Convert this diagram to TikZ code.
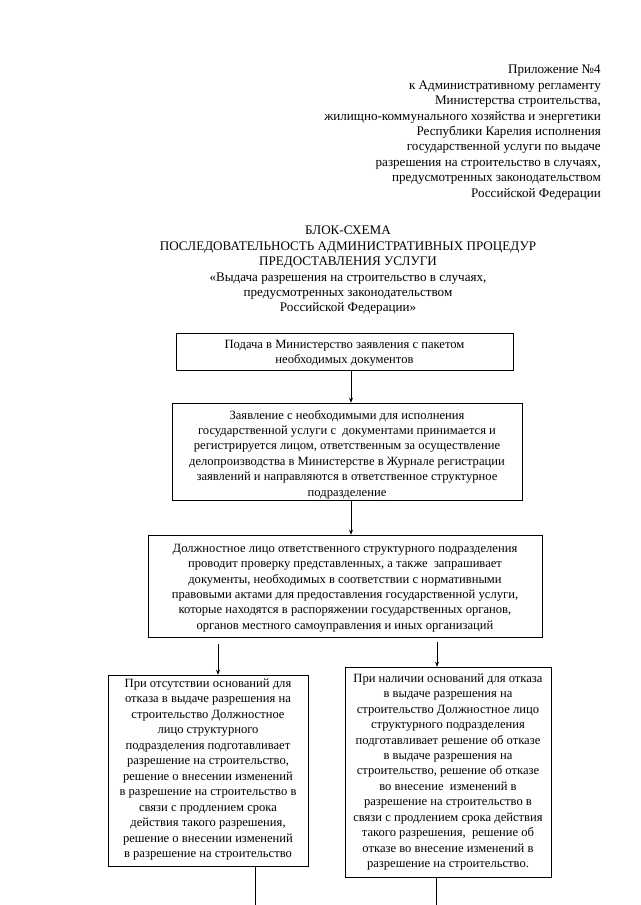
\documentclass[tikz,border=0pt]{standalone}
\usepackage{fontspec}
\setmainfont{Liberation Serif}
\usetikzlibrary{arrows.meta}
\begin{document}
\begin{tikzpicture}[x=1pt,y=-1pt,
  txt/.style={font=\fontsize{12.6}{15.45}\selectfont, align=center, inner sep=0pt},
  big/.style={font=\fontsize{13.1}{15.4}\selectfont, inner sep=0pt},
  blk/.style={draw, line width=0.6pt, inner sep=0pt},
  arr/.style={line width=0.6pt, -{Stealth[length=5pt,width=4pt]}},
  ln/.style={line width=0.6pt}]
\useasboundingbox (0,0) rectangle (640,905);
\fill[white] (0,0) rectangle (640,905);

\node[big, align=right, anchor=north east] (hdr) at (601,65) {Приложение №4\\
к Административному регламенту\\
Министерства строительства,\\
жилищно-коммунального хозяйства и энергетики\\
Республики Карелия исполнения\\
государственной услуги по выдаче\\
разрешения на строительство в случаях,\\
предусмотренных законодательством\\
Российской Федерации};

\node[big, align=center, anchor=north] (ttl) at (348,226) {БЛОК-СХЕМА\\
ПОСЛЕДОВАТЕЛЬНОСТЬ АДМИНИСТРАТИВНЫХ ПРОЦЕДУР\\
ПРЕДОСТАВЛЕНИЯ УСЛУГИ\\
«Выдача разрешения на строительство в случаях,\\
предусмотренных законодательством\\
Российской Федерации»};

\node[blk, minimum width=337pt, minimum height=37pt] (b1) at (344.5,351.5) {};
\node[txt] (t1) at ([yshift=-2pt]b1.center)
{Подача в Министерство заявления с пакетом\\ необходимых документов};

\node[blk, minimum width=350pt, minimum height=97pt] (b2) at (347,451.5) {};
\node[txt] (t2) at ([yshift=-3pt]b2.center)
{Заявление с необходимыми для исполнения\\
государственной услуги с \ документами принимается и\\
регистрируется лицом, ответственным за осуществление\\
делопроизводства в Министерстве в Журнале регистрации\\
заявлений и направляются в ответственное структурное\\
подразделение};

\node[blk, minimum width=394pt, minimum height=102pt] (b3) at (345,586) {};
\node[txt] (t3) at ([yshift=-2pt]b3.center)
{Должностное лицо ответственного структурного подразделения\\
проводит проверку представленных, а также \ запрашивает\\
документы, необходимых в соответствии с нормативными\\
правовыми актами для предоставления государственной услуги,\\
которые находятся в распоряжении государственных органов,\\
органов местного самоуправления и иных организаций};

\node[blk, minimum width=200pt, minimum height=191pt] (b4) at (208,770.5) {};
\node[txt] (t4) at ([yshift=1pt]b4.center)
{При отсутствии оснований для\\
отказа в выдаче разрешения на\\
строительство Должностное\\
лицо структурного\\
подразделения подготавливает\\
разрешение на строительство,\\
решение о внесении изменений\\
в разрешение на строительство в\\
связи с продлением срока\\
действия такого разрешения,\\
решение о внесении изменений\\
в разрешение на строительство};

\node[blk, minimum width=206pt, minimum height=210pt] (b5) at (448,772) {};
\node[txt] (t5) at ([yshift=0pt]b5.center)
{При наличии оснований для отказа\\
в выдаче разрешения на\\
строительство Должностное лицо\\
структурного подразделения\\
подготавливает решение об отказе\\
в выдаче разрешения на\\
строительство, решение об отказе\\
во внесение \ изменений в\\
разрешение на строительство в\\
связи с продлением срока действия\\
такого разрешения, \ решение об\\
отказе во внесение изменений в\\
разрешение на строительство.};

\coordinate (e4) at (255,905);
\coordinate (e5) at (436,905);

\draw[arr] (351,0 |- b1.south) -- (351,0 |- b2.north);
\draw[arr] (351,0 |- b2.south) -- (351,0 |- b3.north);
\draw[arr] ([yshift=-7pt]218,0 |- b3.south) -- (218,0 |- b4.north);
\draw[arr] ([yshift=-5pt]437,0 |- b3.south) -- (437,0 |- b5.north);
\draw[ln] (255,0 |- b4.south) -- (e4);
\draw[ln] (436,0 |- b5.south) -- (e5);
\end{tikzpicture}
\end{document}
